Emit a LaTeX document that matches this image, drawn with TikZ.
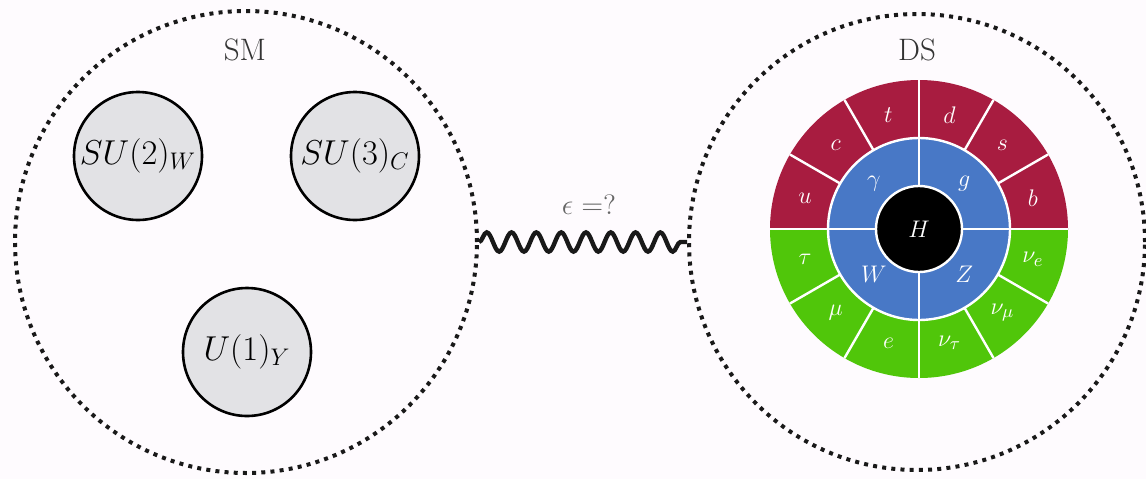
\documentclass[tikz,border=0pt]{standalone}
\usepackage{amsmath}
\usepackage{xcolor}
\usepackage{tikz}
\usetikzlibrary{decorations.pathmorphing}

\definecolor{bgpage}{RGB}{254,251,254}
\definecolor{quarkred}{RGB}{168,28,64}
\definecolor{bosonblue}{RGB}{72,120,198}
\definecolor{leptongreen}{RGB}{80,198,10}
\definecolor{grpgray}{RGB}{226,226,229}

\begin{document}
\begin{tikzpicture}[
  x=0.5pt, y=0.5pt,
  world/.style = {circle, draw=black!90, line width=2pt,
                  dash pattern=on 2pt off 2.6pt, inner sep=0pt},
  grp/.style = {circle, draw=black, line width=1.3pt, fill=grpgray,
                minimum size=64pt, inner sep=0pt, font=\fontsize{17}{20}\selectfont},
  ttl/.style = {text=black!80, font=\fontsize{15.5}{18}\selectfont},
  ptl/.style = {text=white, inner sep=0pt, font=\fontsize{13}{15}\selectfont},
  sep/.style = {white, line width=1.2pt}
]
\useasboundingbox (0,0) rectangle (1146,479);
\fill[bgpage] (0,0) rectangle (1146,479);

% the two sectors
\node[world, minimum size=231pt] (sm) at (246,237) {};
\node[world, minimum size=228pt] (ds) at (917,237) {};
\node[ttl] (smlbl) at (245,429) {SM};
\node[ttl] (dslbl) at (917,429) {DS};

% gauge groups
\node[grp] (su2) at (138,323) {$SU(2)_W$};
\node[grp] (su3) at (355,323) {$SU(3)_C$};
\node[grp] (u1) at (247,127) {$U(1)_Y$};

% portal
\draw[black!90, line width=2.2pt, decorate,
      decoration={snake, amplitude=4.8pt, segment length=12.4pt}] (sm.east) -- (ds.west);
\node[text=black!60, font=\fontsize{14}{16}\selectfont] (eps) at (589,274) {$\epsilon =$?};

% dark copy of the particle content
\coordinate (core) at (919,250);
\fill[quarkred] (core) ++(0:74.5pt) arc[start angle=0, end angle=180, radius=74.5pt] -- cycle;
\fill[leptongreen] (core) ++(180:74.5pt) arc[start angle=180, end angle=360, radius=74.5pt] -- cycle;
\fill[bosonblue] (core) circle[radius=45.5pt];
\draw[sep] (core) circle[radius=45.5pt];
\foreach \a in {30,60,120,150,210,240,300,330}
  \draw[sep] (core) ++(\a:45.5pt) -- ++(\a:29pt);
\foreach \a in {0,90,180,270}
  \draw[sep] (core) -- ++(\a:74.5pt);
\node[circle, fill=black, draw=white, line width=1.2pt, minimum size=43pt,
      ptl] (higgs) at (core) {$H$};

\foreach \lbl [count=\i] in {b,s,d,t,c,u,\tau,\mu,e,\nu_\tau,\nu_\mu,\nu_e}
  \node[ptl] (f\i) at ([shift={({\i*30-15}:59pt)}]core) {$\lbl$};
\foreach \lbl [count=\i] in {g,\gamma,W,Z}
  \node[ptl] (v\i) at ([shift={({\i*90-45}:32pt)}]core) {$\lbl$};
\end{tikzpicture}
\end{document}
